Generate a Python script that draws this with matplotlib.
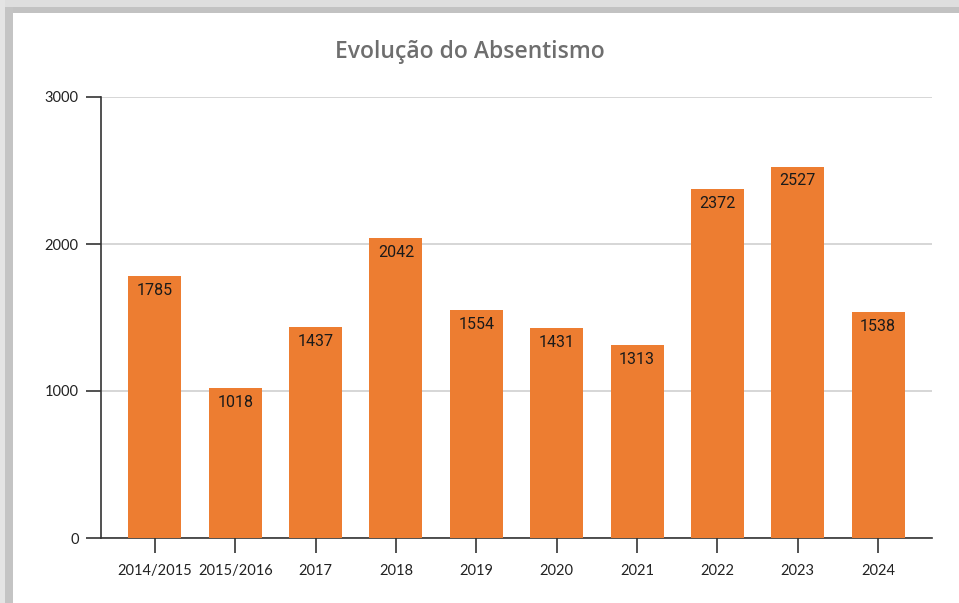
import matplotlib
matplotlib.use("Agg")
import matplotlib.pyplot as plt
from matplotlib.patches import Rectangle

categories = ["2014/2015", "2015/2016", "2017", "2018", "2019", "2020", "2021", "2022", "2023", "2024"]
values = [1785, 1018, 1437, 2042, 1554, 1431, 1313, 2372, 2527, 1538]
yticks = [0, 1000, 2000, 3000]
title = "Evolução do Absentismo"

W, H = 959, 603
fig = plt.figure(figsize=(W / 100, H / 100), dpi=100)
fig.patch.set_facecolor("white")

# frame shadow (top and left bands)
def px_rect(x0, y0, w, h, color):
    fig.patches.append(Rectangle((x0 / W, 1 - (y0 + h) / H), w / W, h / H,
                                 transform=fig.transFigure, facecolor=color,
                                 edgecolor="none", zorder=-5))

px_rect(0, 0, 959, 7, "#dedede")
px_rect(0, 7, 959, 6, "#c2c2c2")
px_rect(0, 0, 5, 603, "#e4e4e4")
px_rect(5, 7, 8, 596, "#c4c4c4")
px_rect(13, 13, 946, 590, "white")

ax = fig.add_axes([101 / W, 1 - 538 / H, (932 - 101) / W, (538 - 97) / H])
ax.set_facecolor("none")
x = list(range(len(categories)))
ax.bar(x, values, width=0.66, color="#ED7D31", zorder=3)
ax.set_xlim(-0.67, len(categories) - 1 + 0.67)
ax.set_ylim(0, 3000)
ax.set_yticks(yticks)
ax.set_xticks(x)
ax.set_xticklabels(categories, fontfamily="Lato", fontsize=10.5, color="#222222")
ax.set_yticklabels([str(v) for v in yticks], fontfamily="Lato", fontsize=10.5, color="#222222")
ax.tick_params(axis="both", length=11, width=1.2, color="#333333", pad=5)
ax.tick_params(axis="x", pad=8)
for s in ["top", "right"]:
    ax.spines[s].set_visible(False)
for s in ["left", "bottom"]:
    ax.spines[s].set_color("#333333")
    ax.spines[s].set_linewidth(1.2)
ax.yaxis.grid(True, color="#d0d0d0", linewidth=1.2, zorder=0)
ax.set_axisbelow(True)

for xi, v in zip(x, values):
    ax.annotate(str(v), (xi, v), xytext=(0, -5), textcoords="offset points",
                ha="center", va="top", fontfamily="Roboto", fontsize=11.5,
                color="#1a1a1a", zorder=4)

fig.text(470 / W, 1 - 52 / H, title, ha="center", va="center",
         fontfamily="Open Sans", fontweight="semibold", fontsize=16.5, color="#6e6e6e")

fig.savefig("out.png", dpi=100)
